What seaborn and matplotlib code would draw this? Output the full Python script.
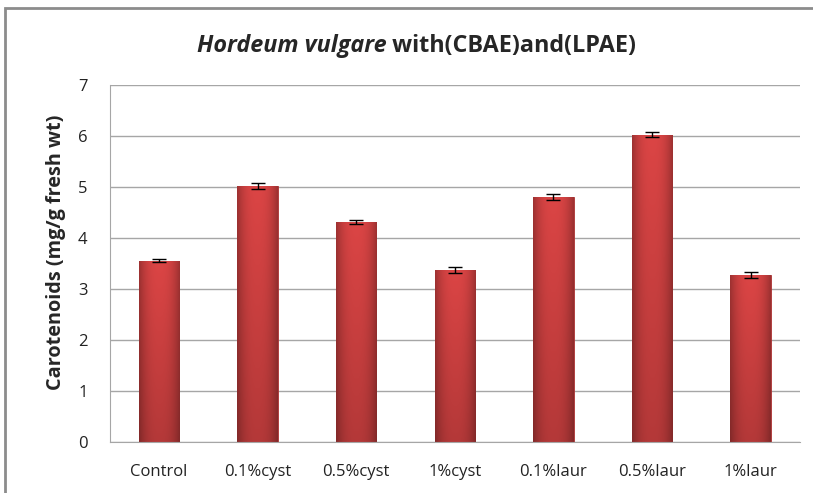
import numpy as np
import pandas as pd
import seaborn as sns
import matplotlib.pyplot as plt
from matplotlib.patches import Rectangle

treatments = ["Control", "0.1%cyst", "0.5%cyst", "1%cyst", "0.1%laur", "0.5%laur", "1%laur"]
carotenoids = [3.55, 5.02, 4.32, 3.38, 4.80, 6.02, 3.27]
errors = [0.03, 0.06, 0.04, 0.06, 0.06, 0.05, 0.06]
yticks = [0, 1, 2, 3, 4, 5, 6, 7]

sns.set_style("white")
plt.rcParams['font.family'] = ['Open Sans', 'DejaVu Sans']

df = pd.DataFrame({'treatment': treatments, 'value': carotenoids})

fig = plt.figure(figsize=(8.13, 4.93), dpi=100)
ax = fig.add_axes([0.135, 0.103, 0.849, 0.725])

sns.barplot(data=df, x='treatment', y='value', color='#d24141', width=0.41,
            edgecolor='#a83232', linewidth=0.6, saturation=1, ax=ax)

# shaded fill for the bars: darker at the sides and towards the bottom
u = np.linspace(0, 1, 60)
side = 1 - 0.28 * np.abs(2 * u - 1) ** 2.5
v = np.linspace(0, 1, 100)[:, None]
shade = side[None, :] * (0.82 + 0.18 * v)
base = np.array([0.86, 0.27, 0.27])
img = np.clip(shade[..., None] * base, 0, 1)
for bar in ax.patches:
    x0, y0 = bar.get_x(), bar.get_y()
    w, h = bar.get_width(), bar.get_height()
    im = ax.imshow(img, extent=(x0, x0 + w, y0, y0 + h), origin='lower',
                   aspect='auto', zorder=bar.get_zorder() + 0.1)
    im.set_clip_path(bar)
ax.set_ylim(0, 7)
ax.set_xlim(-0.5, len(treatments) - 0.5)

ax.errorbar(range(len(treatments)), carotenoids, yerr=errors, fmt='none',
            ecolor='black', elinewidth=1, capsize=5, capthick=1, zorder=5)

ax.set_yticks(yticks)
ax.yaxis.grid(True, color='#a6a6a6', linewidth=1)
ax.set_axisbelow(True)
for s in ['top', 'right']:
    ax.spines[s].set_visible(False)
for s in ['left', 'bottom']:
    ax.spines[s].set_color('#a6a6a6')
ax.tick_params(axis='both', length=0, labelsize=12, colors='#222222')
ax.tick_params(axis='x', pad=16)
ax.tick_params(axis='y', pad=16)
ax.set_xlabel('')
ax.set_ylabel('Carotenoids (mg/g fresh wt)', fontsize=14.3, fontweight='bold')
ax.yaxis.set_label_coords(-0.063, 0.53)

# title: italic species name followed by plain bold text
t1 = fig.text(0.242, 0.895, 'Hordeum vulgare', fontsize=16.8, fontweight='bold',
              fontstyle='italic', ha='left', va='baseline')
ax.annotate(' with(CBAE)and(LPAE)', xy=(1, 0), xycoords=t1, fontsize=16.8,
            fontweight='bold', ha='left', va='bottom', annotation_clip=False)

# outer chart border
fig.patches.append(Rectangle((0.006, -0.1), 1.1, 1.083, transform=fig.transFigure,
                             fill=False, edgecolor='#8c8c8c', linewidth=2))

fig.savefig('out.png', dpi=100)
